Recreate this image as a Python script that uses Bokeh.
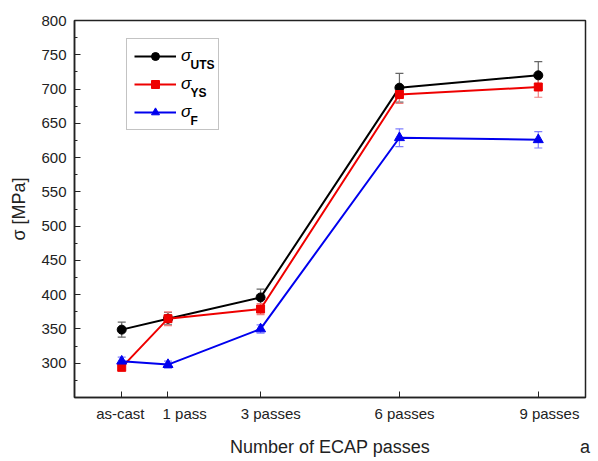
from bokeh.plotting import figure
from bokeh.models import (ColumnDataSource, FixedTicker, Whisker, TeeHead, Legend,
                          LegendItem, Range1d, LinearAxis)
from bokeh.core.properties import value
from bokeh.embed import file_html
from bokeh.resources import INLINE

# ---- data ----
passes = [0, 1, 3, 6, 9]
tick_labels = ["as-cast", "1 pass", "3 passes", "6 passes", "9 passes"]
label_pos = [-0.03, 1.36, 3.22, 6.11, 9.24]
uts = [349, 365, 396, 702, 720]
uts_err = [11, 9, 12, 21, 20]
ys = [294, 365, 379, 692, 703]
ys_err = [5, 10, 8, 13, 15]
frac = [303, 298, 350, 629, 626]
frac_err = [6, 5, 6, 13, 12]
y_major = [300, 350, 400, 450, 500, 550, 600, 650, 700, 750, 800]
y_minor = [275, 325, 375, 425, 475, 525, 575, 625, 675, 725, 775]
subscripts = ["UTS", "YS", "F"]

FONT = "Liberation Sans"
X0, X1, Y0, Y1 = -1.02, 10.02, 250, 800
FL, FR, FT, FB = 74, 585, 20, 397   # frame edges in page pixels


def px_to_data(px, py):
    return (X0 + (px - FL) * (X1 - X0) / (FR - FL),
            Y1 - (py - FT) * (Y1 - Y0) / (FB - FT))


p = figure(width=596, height=459, output_backend="svg", toolbar_location=None,
           x_range=Range1d(X0, X1), y_range=Range1d(Y0, Y1),
           x_axis_location=None,
           min_border_left=FL, min_border_right=596 - FR, min_border_top=FT,
           min_border_bottom=459 - FB)
p.background_fill_color = "white"
p.border_fill_color = "white"
p.grid.visible = False
p.outline_line_color = "#222222"
p.outline_line_width = 1.5

series = [
    (uts, uts_err, "black", "#666666", "circle", 9),
    (ys, ys_err, "#ee0000", "#f08080", "square", 8),
    (frac, frac_err, "#0000ee", "#8080ff", "triangle", 10),
]

items = []
for vals, errs, col, ecol, marker, msize in series:
    src = ColumnDataSource(dict(x=passes, y=vals,
                                lo=[v - e for v, e in zip(vals, errs)],
                                hi=[v + e for v, e in zip(vals, errs)]))
    ln = p.line("x", "y", source=src, line_color=col, line_width=2)
    sc = p.scatter("x", "y", source=src, marker=marker, size=msize,
                   fill_color=col, line_color=col)
    w = Whisker(base="x", lower="lo", upper="hi", source=src,
                line_color=ecol, line_width=1.2,
                upper_head=TeeHead(size=8, line_color=ecol, line_width=1.2),
                lower_head=TeeHead(size=8, line_color=ecol, line_width=1.2))
    p.add_layout(w)
    items.append(LegendItem(label="σ", renderers=[ln, sc]))

# x axes: ticks on one, tick labels on the second, axis title + panel letter on the third
xa = LinearAxis(ticker=FixedTicker(ticks=passes, minor_ticks=[]),
                major_label_overrides={t: "" for t in passes},
                major_label_text_font_size="1px", major_label_standoff=0)
xb = LinearAxis(ticker=FixedTicker(ticks=label_pos, minor_ticks=[]),
                major_label_overrides={t: l for t, l in zip(label_pos, tick_labels)},
                axis_line_color=None, major_tick_line_color=None,
                minor_tick_line_color=None)
title_pos = [(X0 + X1) / 2, X1 - 0.01]
title_texts = ["Number of ECAP passes", "a"]
xc = LinearAxis(ticker=FixedTicker(ticks=title_pos, minor_ticks=[]),
                major_label_overrides={t: l for t, l in zip(title_pos, title_texts)},
                axis_line_color=None, major_tick_line_color=None,
                minor_tick_line_color=None)
p.add_layout(xa, "below")
p.add_layout(xb, "below")
p.add_layout(xc, "below")
ya = p.yaxis[0]
ya.ticker = FixedTicker(ticks=y_major, minor_ticks=y_minor)
for ax in (xa, xb, xc, ya):
    ax.axis_line_width = 1.5
    ax.major_tick_in = 6
    ax.major_tick_out = 0
    ax.minor_tick_in = 3
    ax.minor_tick_out = 0
    ax.major_label_text_font = FONT
    ax.major_label_text_color = "#222222"
for ax in (xa, ya):
    ax.axis_line_color = "#222222"
    ax.major_tick_line_color = "#222222"
    ax.minor_tick_line_color = "#222222"
for ax in (xb, ya):
    ax.major_label_text_font_size = "15px"
    ax.major_label_standoff = 8
xb.major_tick_in = 0
xb.major_label_standoff = 7
xc.major_tick_in = 0
xc.major_label_text_font_size = "18px"
xc.major_label_standoff = 12

ya.axis_label = "σ [MPa]"
ya.axis_label_text_font = FONT
ya.axis_label_text_font_size = "18px"
ya.axis_label_text_font_style = "normal"
ya.axis_label_text_color = "#222222"
ya.axis_label_standoff = 9

# subscripts for legend labels (text placed next to the legend's sigma)
sub_pos = [px_to_data(190, 64 + 28 * i) for i in range(3)]
p.text(x=[s[0] for s in sub_pos], y=[s[1] for s in sub_pos], text=subscripts,
       text_font=value(FONT), text_font_style="bold", text_font_size="12px",
       text_color="black", text_align="left", text_baseline="middle")

legend = Legend(items=items, location=(52, 267), glyph_width=42, glyph_height=20,
                spacing=8, padding=7, margin=0, label_standoff=5, label_width=30,
                label_text_font=FONT, label_text_font_style="italic",
                label_text_font_size="17px", label_text_color="black",
                border_line_color="#888888", border_line_width=1.5,
                background_fill_alpha=0)
p.add_layout(legend)

open("out.html", "w").write(file_html(p, INLINE))
